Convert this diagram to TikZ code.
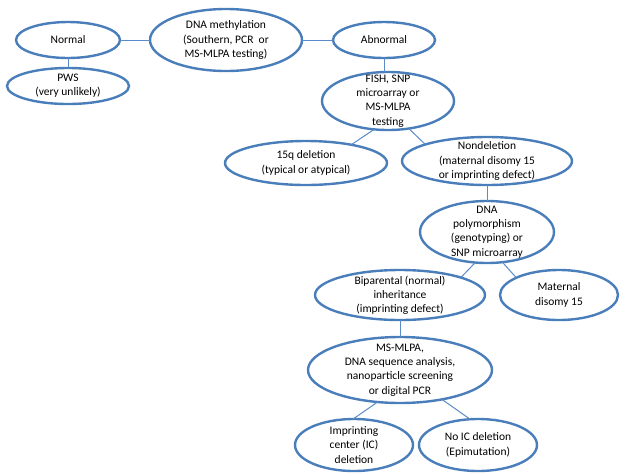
\documentclass[tikz,border=0pt]{standalone}
\usepackage{fontspec}
\setmainfont{Carlito}
\usetikzlibrary{shapes.geometric}

\definecolor{ovalblue}{RGB}{74,126,187}
\definecolor{linkblue}{RGB}{91,139,200}

\tikzset{
    oval/.style={draw=ovalblue, line width=2.4pt, ellipse, inner sep=0pt, outer sep=0pt},
    tag/.style={align=center, inner sep=0pt, font=\fontsize{11.5}{14.2}\selectfont},
    link/.style={draw=linkblue, line width=1pt}
}

\begin{document}
\begin{tikzpicture}[x=1pt, y=-1pt]
    \useasboundingbox (0,0) rectangle (624,475);

    % Top row: methylation test and its two outcomes
    \node[oval, minimum width=152, minimum height=62, label={[tag]center:DNA methylation\\(Southern, PCR~ or\\MS-MLPA testing)}] (meth) at (226,40) {};
    \node[oval, minimum width=104, minimum height=36, label={[tag]center:Normal}] (normal) at (68,40) {};
    \node[oval, minimum width=102, minimum height=36, label={[tag]center:Abnormal}] (abnormal) at (384,40) {};
    \node[oval, minimum width=122, minimum height=36, label={[tag]center:PWS\\(very unlikely)}] (pws) at (68,86) {};

    % Second test
    \node[oval, minimum width=132, minimum height=58, label={[tag]center:FISH, SNP\\microarray or\\MS-MLPA\\testing}] (fish) at (388,101) {};
    \node[oval, minimum width=162, minimum height=44, label={[tag]center:15q deletion\\(typical or atypical)}] (del) at (306,163) {};
    \node[oval, minimum width=170, minimum height=48, label={[tag]center:Nondeletion\\(maternal disomy 15\\or imprinting defect)}] (nondel) at (487,161) {};

    % Genotyping
    \node[oval, minimum width=134, minimum height=62, label={[tag]center:DNA\\polymorphism\\(genotyping) or\\SNP microarray}] (poly) at (487,232) {};
    \node[oval, minimum width=170, minimum height=50, label={[tag]center:Biparental (normal)\\inheritance\\(imprinting defect)}] (bip) at (400,295) {};
    \node[oval, minimum width=118, minimum height=50, label={[tag]center:Maternal\\disomy 15}] (upd) at (559,295) {};

    % Imprinting center analysis
    \node[oval, minimum width=184, minimum height=66, label={[tag]center:MS-MLPA,\\DNA sequence analysis,\\nanoparticle screening\\or digital PCR}] (mlpa) at (400,370) {};
    \node[oval, minimum width=118, minimum height=52, label={[tag]center:Imprinting\\center (IC)\\deletion}] (icdel) at (354,445) {};
    \node[oval, minimum width=118, minimum height=52, label={[tag]center:No IC deletion\\(Epimutation)}] (noic) at (478,445) {};

    % Connectors
    \draw[link] (normal) -- (meth);
    \draw[link] (meth) -- (abnormal);
    \draw[link] (normal) -- (pws);
    \draw[link] (abnormal) -- (abnormal |- fish.north);
    \draw[link] (fish.-116) -- (del.22);
    \draw[link] (fish.-53) -- (nondel.165);
    \draw[link] (nondel) -- (poly);
    \draw[link] (poly.-111) -- (bip.16);
    \draw[link] (poly.-63) -- (upd.158);
    \draw[link] (bip) -- (mlpa);
    \draw[link] (mlpa.-125) -- (icdel.92);
    \draw[link] (mlpa.-35) -- (noic.107);
\end{tikzpicture}
\end{document}
